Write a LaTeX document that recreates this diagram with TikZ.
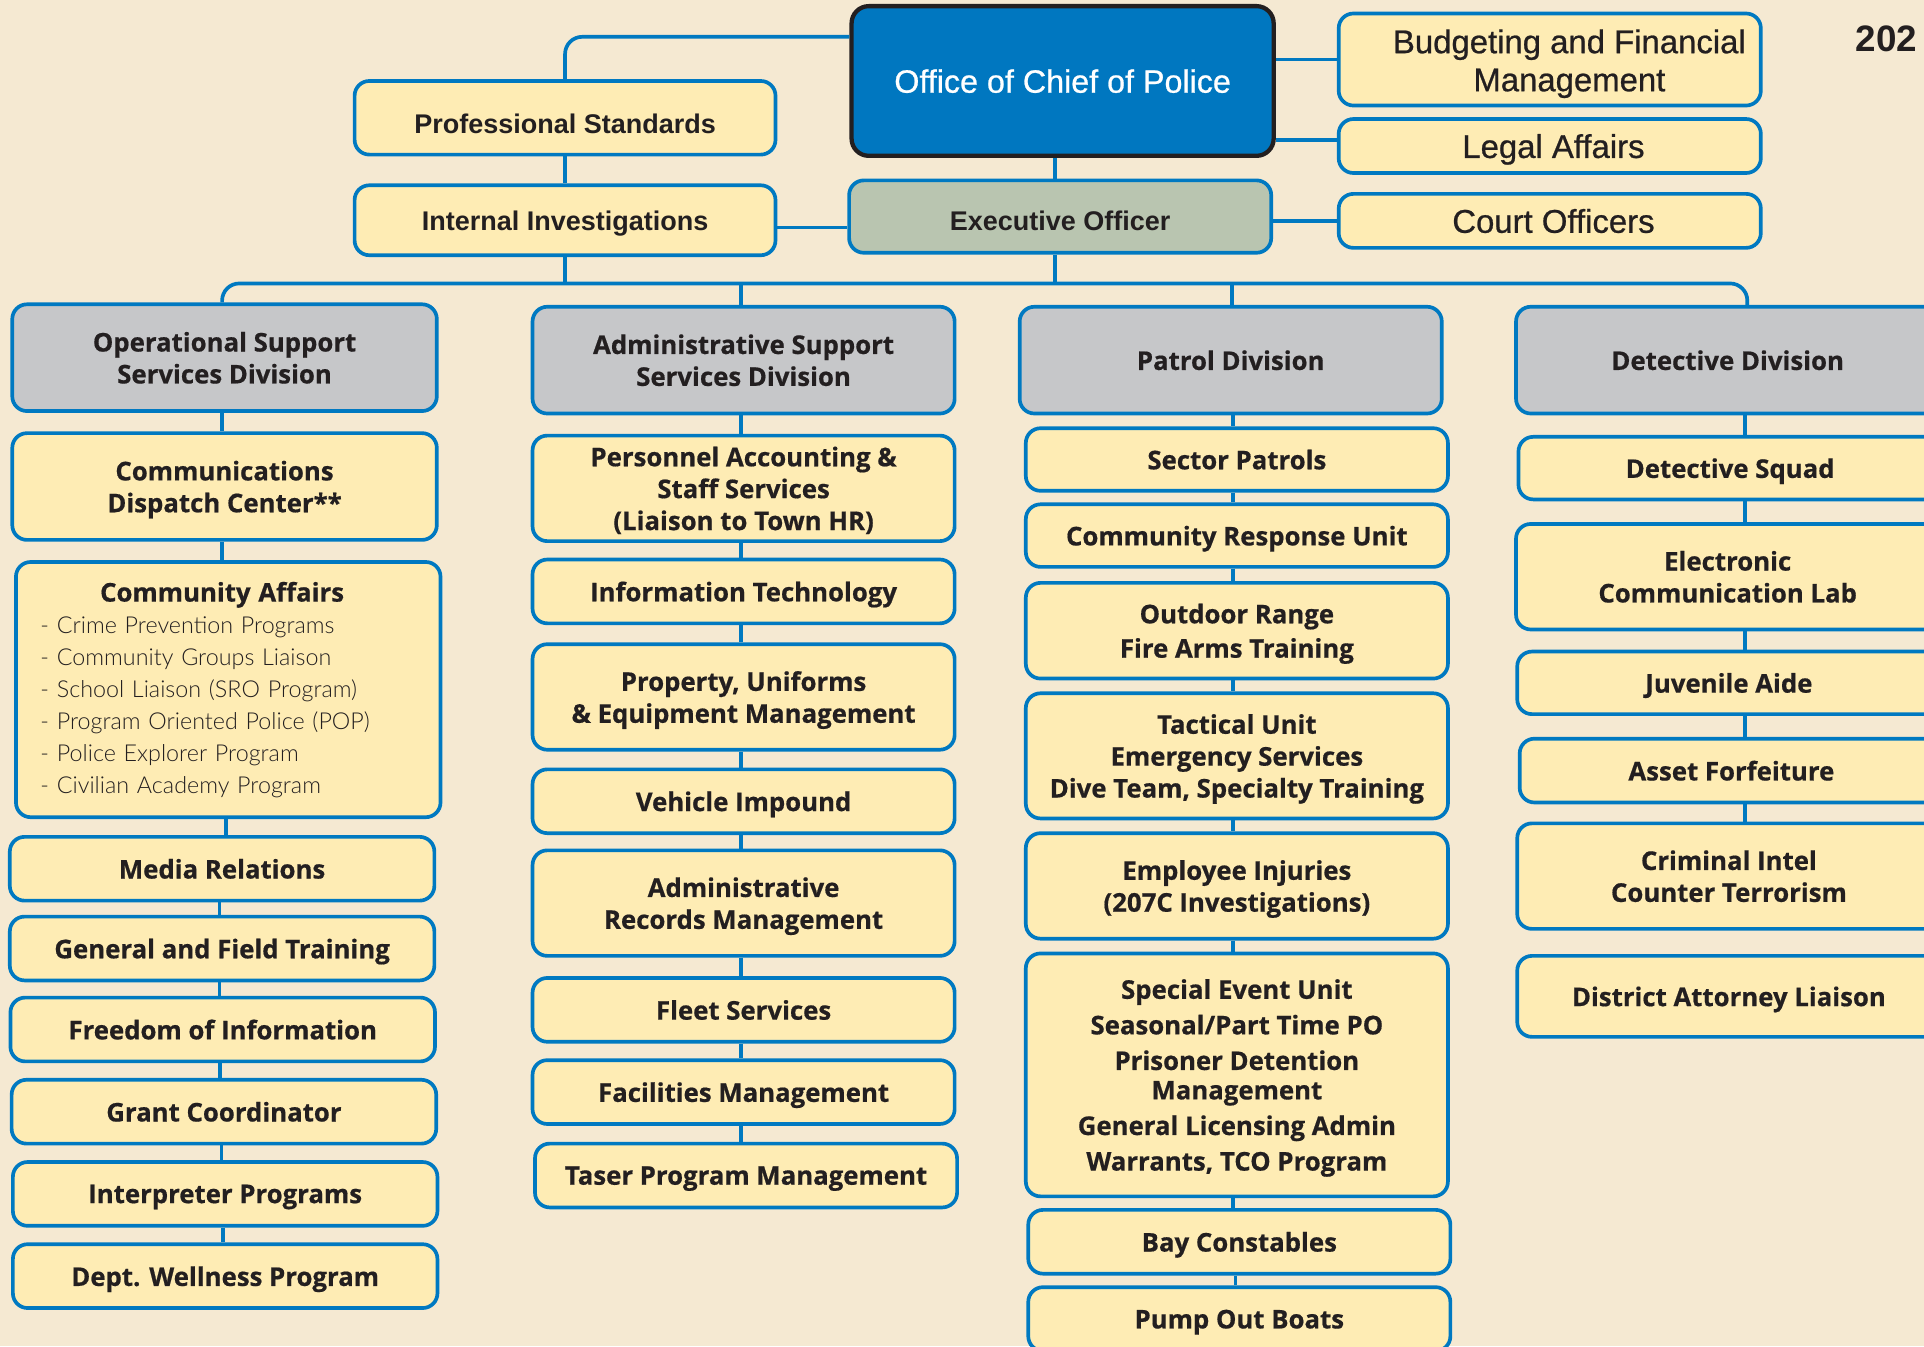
\documentclass[tikz,border=0pt]{standalone}
\usepackage{fontspec}
\setmainfont{Liberation Sans}
\newfontfamily\boxfont{Open Sans}[BoldFeatures={FakeBold=0.6}]
\newfontfamily\topfont{Liberation Sans}[FakeBold=0.7]
\newfontfamily\listfont{Lato Light}
\definecolor{paper}{RGB}{245,233,210}
\definecolor{unityellow}{RGB}{254,236,180}
\definecolor{lineblue}{RGB}{0,121,193}
\definecolor{divgray}{RGB}{198,199,201}
\definecolor{execgreen}{RGB}{185,197,176}
\definecolor{chiefblue}{RGB}{0,119,192}
\definecolor{inkdark}{RGB}{35,31,32}
\begin{document}
\begin{tikzpicture}[x=1pt,y=-1pt,
    link/.style={draw=lineblue, line width=3pt},
    unit/.style={draw=lineblue, line width=3pt, fill=unityellow, rounded corners=12pt,
      minimum width=345pt, inner sep=0pt, align=center, text=inkdark, text depth=0pt,
      font=\boxfont\bfseries\fontsize{21}{26}\selectfont},
    division/.style={unit, fill=divgray},
    staff/.style={unit, minimum width=344pt, font=\topfont\fontsize{26.8}{31}\selectfont},
    staffbold/.style={staff, font=\bfseries\fontsize{22}{26}\selectfont},
    office/.style={staff, fill=chiefblue, draw=inkdark, line width=3.5pt, text=white,
      rounded corners=14pt, font=\topfont\fontsize{26.3}{30}\selectfont}]
  \useasboundingbox (0,0) rectangle (1568,1097);
  \clip (0,0) rectangle (1568,1097);
  \fill[paper] (0,0) rectangle (1568,1097);

  % top offices
  \node[office, minimum height=122pt] (chief) at (866,66) {Office of Chief of Police};
  \node[staff, minimum height=75pt, text depth=] (budget) at (1263,48.5)
    {\hspace*{32pt}\begin{tabular}{@{}c@{}}\rule{0pt}{30pt}Budgeting and Financial\\Management\end{tabular}};
  \node[staff, minimum height=44pt] (legal) at (1263,119) {\hspace*{6pt}Legal Affairs};
  \node[staff, minimum height=44pt] (court) at (1263,180) {\hspace*{6pt}Court Officers};
  \node[staffbold, minimum width=343pt, minimum height=60pt, text height=26pt] (prof) at (460.5,96) {Professional Standards};
  \node[staffbold, minimum width=343pt, minimum height=57pt] (internal) at (460.5,179.5) {Internal Investigations};
  \node[staffbold, fill=execgreen, minimum height=59pt, text height=23pt] (exec) at (864,176.5) {Executive Officer};
  \node[anchor=west, inner sep=0pt, text=inkdark, font=\bfseries\fontsize{30}{30}\selectfont] (year) at (1512,31.5) {202};

  % divisions
  \node[division, minimum width=346pt, minimum height=87pt] (osd) at (183,291.5) {Operational Support\\Services Division};
  \node[division, minimum width=344pt, minimum height=87pt] (asd) at (606,293.5) {Administrative Support\\Services Division};
  \node[division, minimum width=344pt, minimum height=87pt] (patrol) at (1003,293.5) {Patrol Division};
  \node[division, minimum height=87pt] (det) at (1408,293.5) {Detective Division};

  % operational support
  \node[unit, minimum width=346pt, minimum height=87pt] (comm) at (183,396.5) {Communications\\Dispatch Center**};
  \node[unit, minimum width=346pt, minimum height=208pt, align=left, text width=306pt, text depth=,
        font=\listfont\fontsize{19}{26}\selectfont] (ca) at (186,562)
    {\makebox[296pt]{\boxfont\bfseries\fontsize{21}{26}\selectfont Community Affairs}\\
     - Crime Prevention Programs\\
     - Community Groups Liaison\\
     - School Liaison (SRO Program)\\
     - Program Oriented Police (POP)\\
     - Police Explorer Program\\
     - Civilian Academy Program};
  \node[unit, minimum width=346pt, minimum height=52pt] (media) at (181,708) {Media Relations};
  \node[unit, minimum width=346pt, minimum height=52pt] (gft) at (181,773) {General and Field Training};
  \node[unit, minimum width=346pt, minimum height=52pt] (foi) at (181.5,839) {Freedom of Information};
  \node[unit, minimum width=346pt, minimum height=52pt] (grant) at (182.5,906) {Grant Coordinator};
  \node[unit, minimum width=346pt, minimum height=52pt] (interp) at (183.5,973) {Interpreter Programs};
  \node[unit, minimum width=346pt, minimum height=52pt] (well) at (183.5,1040) {Dept. Wellness Program};

  % administrative support
  \node[unit, minimum width=344pt, minimum height=86pt] (pers) at (606,398) {Personnel Accounting \&\\Staff Services\\(Liaison to Town HR)};
  \node[unit, minimum width=344pt, minimum height=52pt] (it) at (606,482) {Information Technology};
  \node[unit, minimum width=344pt, minimum height=86pt] (prop) at (606,568) {Property, Uniforms\\\& Equipment Management};
  \node[unit, minimum width=344pt, minimum height=52pt] (impound) at (606,653) {Vehicle Impound};
  \node[unit, minimum width=344pt, minimum height=86pt] (records) at (606,736) {Administrative\\Records Management};
  \node[unit, minimum width=344pt, minimum height=52pt] (fleet) at (606,823) {Fleet Services};
  \node[unit, minimum width=344pt, minimum height=52pt] (fac) at (606,890) {Facilities Management};
  \node[unit, minimum width=344pt, minimum height=52pt] (taser) at (608,958) {Taser Program Management};

  % patrol
  \node[unit, minimum width=344pt, minimum height=51pt] (sector) at (1008,374.5) {Sector Patrols};
  \node[unit, minimum width=344pt, minimum height=51pt] (cru) at (1008,436.5) {Community Response Unit};
  \node[unit, minimum width=344pt, minimum height=78pt] (range) at (1008,514) {Outdoor Range\\[2pt]Fire Arms Training};
  \node[unit, minimum width=344pt, minimum height=102pt] (tact) at (1008,616) {Tactical Unit\\Emergency Services\\Dive Team, Specialty Training};
  \node[unit, minimum width=344pt, minimum height=86pt] (injury) at (1008,722) {Employee Injuries\\(207C Investigations)};
  \node[unit, minimum width=344pt, minimum height=198pt, font=\boxfont\bfseries\fontsize{21}{24}\selectfont] (seu) at (1008,876)
    {Special Event Unit\\[5pt]Seasonal/Part Time PO\\[5pt]Prisoner Detention\\Management\\[5pt]General Licensing Admin\\[5pt]Warrants, TCO Program};
  \node[unit, minimum width=344pt, minimum height=52pt] (bay) at (1010,1012) {Bay Constables};
  \node[unit, minimum width=344pt, minimum height=52pt] (pump) at (1010,1075) {Pump Out Boats};

  % detective
  \node[unit, minimum height=51pt] (squad) at (1410,381.5) {Detective Squad};
  \node[unit, minimum height=86pt] (ecl) at (1408,470) {Electronic\\Communication Lab};
  \node[unit, minimum height=51pt] (juv) at (1409,556.5) {Juvenile Aide};
  \node[unit, minimum height=52pt] (asset) at (1411,628) {Asset Forfeiture};
  \node[unit, minimum height=86pt] (intel) at (1409,714) {Criminal Intel\\Counter Terrorism};
  \node[unit, minimum height=66pt] (dal) at (1409,812) {District Attorney Liaison};

  % top connectors
  \coordinate (bus) at (0,231);
  \draw[link, rounded corners=14pt] ([yshift=36pt]chief.west) -| (prof.north);
  \draw[link] (chief.east |- budget.west) -- (budget.west);
  \draw[link] ([yshift=5pt]chief.east |- legal.west) -- ([yshift=5pt]legal.west);
  \draw[link] (exec.east |- court.west) -- (court.west);
  \draw[link] ([yshift=-6pt]internal.east) -- ([yshift=-6pt]internal.east -| exec.west);
  \draw[link] ([xshift=-6pt]chief.south) -- ([xshift=-6pt]chief.south |- exec.north);
  \draw[link] (prof.south) -- (prof.south |- internal.north);
  \draw[link] (internal.south) -- (internal.south |- bus);
  \draw[link] ([xshift=-4pt]exec.south) -- ([xshift=-4pt]exec.south |- bus);
  \draw[link, rounded corners=14pt] ([xshift=-2pt]osd.north) |- ([xshift=16pt]det.north |- bus) -- ([xshift=16pt]det.north);
  \draw[link] ([xshift=-2pt]asd.north) -- ([xshift=-2pt]asd.north |- bus);
  \draw[link] ([xshift=1pt]patrol.north) -- ([xshift=1pt]patrol.north |- bus);

  % column connectors
  \foreach \a/\b in {osd/comm, comm/ca, ca/media, media/gft, gft/foi, foi/grant, grant/interp, interp/well,
                     asd/pers, pers/it, it/prop, prop/impound, impound/records, records/fleet, fleet/fac, fac/taser}
    \draw[link] ([xshift=-2pt]\a.south) -- ([xshift=-2pt]\a.south |- \b.north);
  \foreach \a/\b in {sector/cru, cru/range, range/tact, tact/injury, injury/seu, seu/bay, bay/pump}
    \draw[link] ([xshift=-3pt]\a.south) -- ([xshift=-3pt]\a.south |- \b.north);
  \draw[link] ([xshift=2pt]patrol.south) -- ([xshift=2pt]patrol.south |- sector.north);
  \foreach \a/\b in {det/squad, squad/ecl, ecl/juv, juv/asset, asset/intel}
    \draw[link] ([xshift=14pt]\a.south -| det.south) -- ([xshift=14pt]\b.north -| det.south);
\end{tikzpicture}
\end{document}
